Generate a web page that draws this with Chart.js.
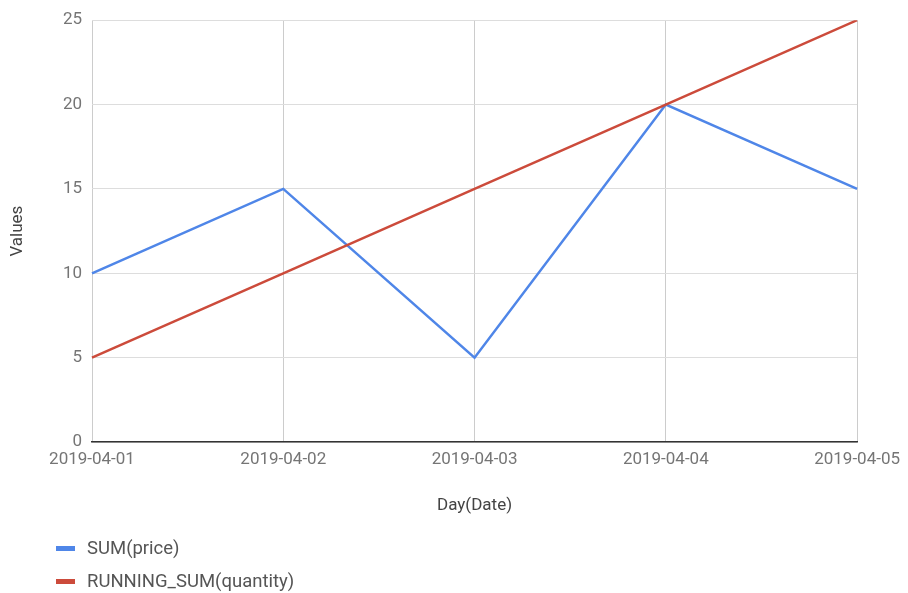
<!DOCTYPE html>
<html>
<head>
<meta charset="utf-8">
<script src="https://cdn.jsdelivr.net/npm/chart.js@4"></script>
<style>
html,body{margin:0;padding:0;background:#fff;}
#wrap{width:908px;height:593px;position:relative;}
</style>
</head>
<body>
<div id="wrap"><canvas id="c" width="908" height="593"></canvas></div>
<script>
const categories = ['2019-04-01','2019-04-02','2019-04-03','2019-04-04','2019-04-05'];
const sumPrice = [10, 15, 5, 20, 15];
const runningSumQuantity = [5, 10, 15, 20, 25];
const yTicks = [0, 5, 10, 15, 20, 25];
const seriesNames = ['SUM(price)', 'RUNNING_SUM(quantity)'];
const seriesColors = ['#4f86e8', '#cc4b3b'];

const FONT = 'Roboto, "Noto Sans", sans-serif';

const legendPlugin = {
  id: 'vlegend',
  afterDraw(chart) {
    const ctx = chart.ctx;
    ctx.save();
    ctx.font = '18.5px ' + FONT;
    ctx.textBaseline = 'middle';
    ctx.textAlign = 'left';
    const ys = [548, 581];
    chart.data.datasets.forEach((ds, i) => {
      ctx.fillStyle = ds.borderColor;
      ctx.fillRect(56, ys[i] - 2, 19, 5);
      ctx.fillStyle = '#555';
      ctx.fillText(ds.label, 87, ys[i] + 1);
    });
    ctx.restore();
  }
};

new Chart(document.getElementById('c'), {
  type: 'line',
  data: {
    labels: categories,
    datasets: [
      { label: seriesNames[0], data: sumPrice, borderColor: seriesColors[0], backgroundColor: seriesColors[0], borderWidth: 2.5, pointRadius: 0, tension: 0, order: 2 },
      { label: seriesNames[1], data: runningSumQuantity, borderColor: seriesColors[1], backgroundColor: seriesColors[1], borderWidth: 2.5, pointRadius: 0, tension: 0, order: 1 }
    ]
  },
  options: {
    responsive: false,
    animation: false,
    devicePixelRatio: 1,
    layout: { padding: { left: 0, right: 50, top: 17, bottom: 0 } },
    plugins: { legend: { display: false }, tooltip: { enabled: false } },
    scales: {
      x: {
        offset: false,
        grid: { color: '#cccccc', lineWidth: 1, drawTicks: false },
        border: { color: '#333333', width: 1.5 },
        ticks: { color: '#757575', font: { family: FONT, size: 17 }, padding: 8, maxRotation: 0, autoSkip: false },
        title: { display: true, text: 'Day(Date)', color: '#444', font: { family: FONT, size: 17 }, padding: { top: 0, bottom: 77 } },
        afterFit(scale) { scale.height = 151; }
      },
      y: {
        min: 0, max: 25,
        afterBuildTicks(scale) { scale.ticks = yTicks.map(v => ({ value: v })); },
        grid: { color: '#dddddd', lineWidth: 1, drawTicks: false },
        border: { display: false },
        ticks: { color: '#757575', font: { family: FONT, size: 17 }, padding: 10 },
        title: { display: true, text: 'Values', color: '#444', font: { family: FONT, size: 17 }, padding: { top: 8, bottom: 0 } },
        afterFit(scale) { scale.width = 92; }
      }
    }
  },
  plugins: [legendPlugin]
});
</script>
</body>
</html>
